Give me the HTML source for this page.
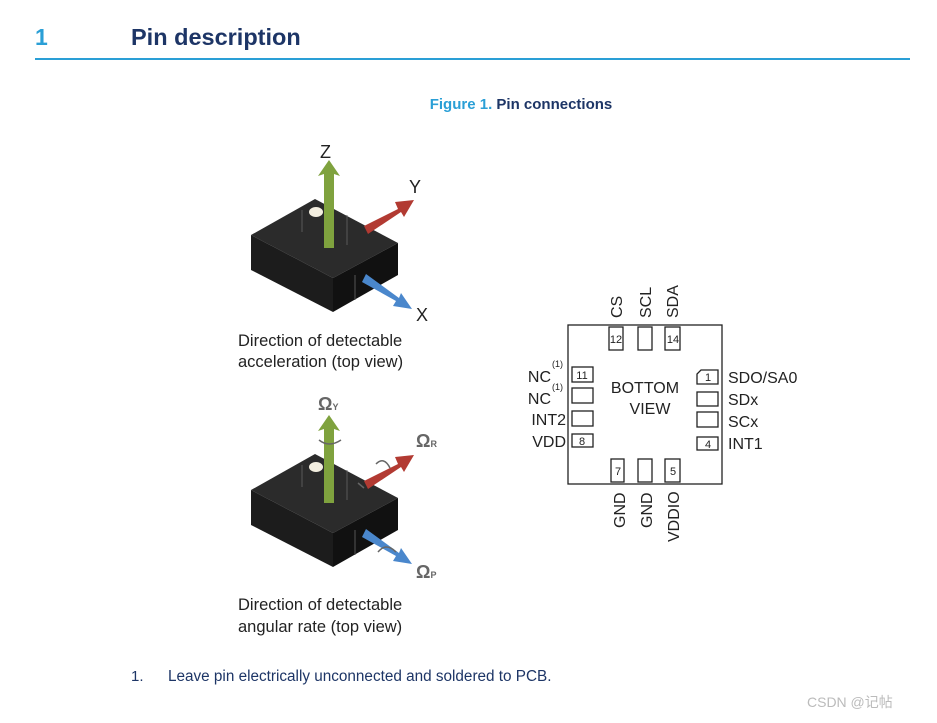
<!DOCTYPE html>
<html><head><meta charset="utf-8"><style>
body{margin:0;background:#fff;width:937px;height:718px;overflow:hidden;font-family:"Liberation Sans",Arial,sans-serif}
</style></head><body>
<svg width="937" height="718" viewBox="0 0 937 718" xmlns="http://www.w3.org/2000/svg" font-family="Liberation Sans, Arial, sans-serif">
<text x="35" y="45" font-size="23" font-weight="bold" fill="#2a9fd6">1</text>
<text x="131" y="45" font-size="23.5" font-weight="bold" fill="#1d3566">Pin description</text>
<rect x="35" y="58" width="875" height="2" fill="#2a9fd6"/>
<text x="521" y="109" font-size="15" font-weight="bold" text-anchor="middle"><tspan fill="#2a9fd6">Figure 1. </tspan><tspan fill="#1d3566">Pin connections</tspan></text>

<defs>
<g id="cube">
<polygon points="251,235 315,199 398,243 333,278" fill="#2b2b2b"/>
<polygon points="251,235 333,278 333,312 251,270" fill="#1c1c1c"/>
<polygon points="333,278 398,243 398,275 333,312" fill="#111"/>
<line x1="355" y1="275" x2="355" y2="300" stroke="#555" stroke-width="1"/>
<line x1="302" y1="210" x2="302" y2="232" stroke="#666" stroke-width="0.8"/>
<line x1="347" y1="215" x2="347" y2="245" stroke="#666" stroke-width="0.8"/>
<ellipse cx="316" cy="212" rx="7" ry="5" fill="#f3eee0"/>
<polygon points="364,226 398,209 395,202 414,200 404,217 401,212 368,234" fill="#b23a32"/>
<polygon points="362,282 396,301 393,306 412,309 401,293 399,298 366,274" fill="#4a87cc"/>
<polygon points="324,248 324,174 318,176 329,160 340,176 334,174 334,248" fill="#7fa23e"/>
</g>
</defs>
<use href="#cube"/>
<text x="320" y="158" font-size="18" fill="#222">Z</text>
<text x="409" y="193" font-size="18" fill="#222">Y</text>
<text x="416" y="321" font-size="18" fill="#222">X</text>
<text x="238" y="346" font-size="16.5" fill="#222">Direction of detectable</text>
<text x="238" y="367" font-size="16.5" fill="#222">acceleration (top view)</text>

<use href="#cube" transform="translate(0,255)"/>
<g fill="none" stroke="#666" stroke-width="1.5">
<path d="M319 440 q10 8 22 0"/><path d="M376 464 q8 -8 14 4"/><path d="M378 552 q8 -10 18 0"/>
<line x1="358" y1="483" x2="364" y2="488"/>
</g>
<text x="318" y="410" font-size="18" font-weight="bold" fill="#666">Ω<tspan font-size="9">Y</tspan></text>
<text x="416" y="447" font-size="18" font-weight="bold" fill="#666">Ω<tspan font-size="9">R</tspan></text>
<text x="416" y="578" font-size="18" font-weight="bold" fill="#666">Ω<tspan font-size="9">P</tspan></text>
<text x="238" y="610" font-size="16.5" fill="#222">Direction of detectable</text>
<text x="238" y="632" font-size="16.5" fill="#222">angular rate (top view)</text>

<g stroke="#222" stroke-width="1.3" fill="#fff">
<rect x="568" y="325" width="154" height="159"/>
<rect x="609" y="327" width="14" height="23"/><rect x="638" y="327" width="14" height="23"/><rect x="665" y="327" width="15" height="23"/>
<rect x="611" y="459" width="13" height="23"/><rect x="638" y="459" width="14" height="23"/><rect x="665" y="459" width="15" height="23"/>
<rect x="572" y="367" width="21" height="15"/><rect x="572" y="388" width="21" height="15"/><rect x="572" y="411" width="21" height="15"/><rect x="572" y="434" width="21" height="13"/>
<path d="M701 370 H718 V384 H697 V374 Z"/><rect x="697" y="392" width="21" height="14"/><rect x="697" y="412" width="21" height="15"/><rect x="697" y="437" width="21" height="13"/>
</g>
<g font-size="11" fill="#222" text-anchor="middle">
<text x="616" y="343">12</text><text x="673" y="343">14</text>
<text x="618" y="475">7</text><text x="673" y="475">5</text>
<text x="582" y="379">11</text><text x="582" y="445">8</text>
<text x="708" y="381">1</text><text x="708" y="448">4</text>
</g>
<g font-size="16" fill="#222">
<text x="645" y="393" text-anchor="middle">BOTTOM</text>
<text x="650" y="414" text-anchor="middle">VIEW</text>
<text x="551" y="382" text-anchor="end">NC</text><text x="552" y="367" font-size="9">(1)</text>
<text x="551" y="404" text-anchor="end">NC</text><text x="552" y="390" font-size="9">(1)</text>
<text x="566" y="425" text-anchor="end">INT2</text>
<text x="566" y="447" text-anchor="end">VDD</text>
<text x="728" y="383">SDO/SA0</text>
<text x="728" y="405">SDx</text>
<text x="728" y="427">SCx</text>
<text x="728" y="449">INT1</text>
<text transform="translate(622,318) rotate(-90)">CS</text>
<text transform="translate(651,318) rotate(-90)">SCL</text>
<text transform="translate(678,318) rotate(-90)">SDA</text>
<text transform="translate(625,528) rotate(-90)">GND</text>
<text transform="translate(652,528) rotate(-90)">GND</text>
<text transform="translate(679,542) rotate(-90)">VDDIO</text>
</g>
<text x="131" y="681" font-size="15" fill="#1d3566">1.</text>
<text x="168" y="681" font-size="15.3" fill="#1d3566">Leave pin electrically unconnected and soldered to PCB.</text>
<text x="807" y="707" font-size="14" fill="#bbb">CSDN @记帖</text>
</svg>
</body></html>
